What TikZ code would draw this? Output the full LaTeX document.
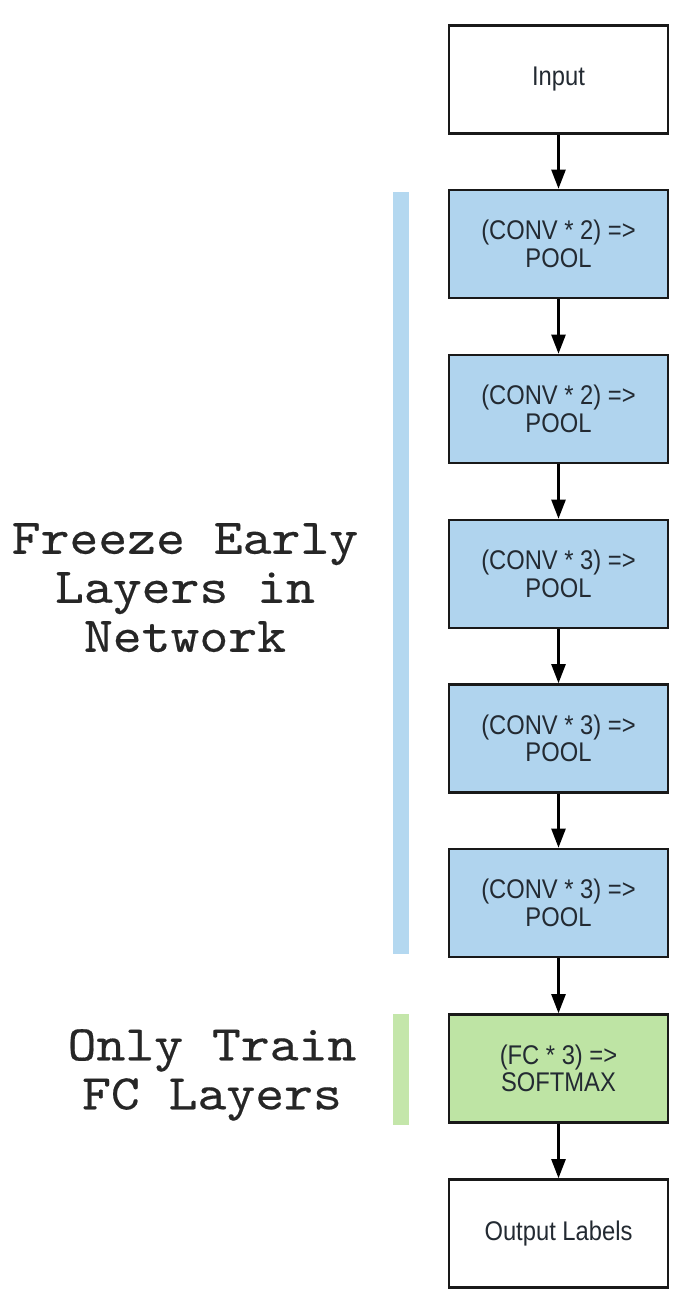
\documentclass[tikz,border=0pt]{standalone}
\usepackage{fontspec}
\setmainfont{Liberation Sans}
\newfontfamily\boxfont[FakeStretch=0.88]{Liberation Sans}
\newfontfamily\monof[FakeStretch=1.1,FakeBold=0.3]{lmmono10-regular.otf}
\usetikzlibrary{arrows.meta}
\definecolor{boxblue}{RGB}{176,212,238}
\definecolor{boxgreen}{RGB}{190,228,164}
\definecolor{barblue}{RGB}{180,216,240}
\definecolor{bargreen}{RGB}{196,230,170}
\definecolor{txtgray}{RGB}{35,42,50}
\tikzset{
  layer/.style={draw=black!90, line width=2.6pt, rectangle, minimum width=219pt, minimum height=108pt,
    align=center, text=txtgray, font=\boxfont\fontsize{27}{27.5}\selectfont, inner sep=0pt},
  bluelayer/.style={layer, fill=boxblue},
  greenlayer/.style={layer, fill=boxgreen},
  whitelayer/.style={layer, fill=white},
  flow/.style={line width=2.4pt, -{Triangle[length=19pt,width=14pt]}},
  sidetext/.style={font=\monof\fontsize{50}{49}\selectfont, align=center, text=black!85, inner sep=0pt, anchor=north},
}
\begin{document}
\begin{tikzpicture}[x=1pt,y=-1pt]
\useasboundingbox (0,0) rectangle (686,1303);
\fill[white] (0,0) rectangle (686,1303);
% bars
\fill[barblue] (393,192) rectangle (409,954);
\fill[bargreen] (393,1014) rectangle (409,1125);
% boxes
\node[whitelayer] (in) at (558.5,79.5) {Input};
\node[bluelayer] (c1) at (558.5,244) {(CONV * 2) =>\\POOL};
\node[bluelayer] (c2) at (558.5,409) {(CONV * 2) =>\\POOL};
\node[bluelayer] (c3) at (558.5,574) {(CONV * 3) =>\\POOL};
\node[bluelayer] (c4) at (558.5,738.5) {(CONV * 3) =>\\POOL};
\node[bluelayer] (c5) at (558.5,903) {(CONV * 3) =>\\POOL};
\node[greenlayer] (fc) at (558.5,1068.5) {(FC * 3) =>\\SOFTMAX};
\node[whitelayer] (out) at (558.5,1233.5) {Output Labels};
% arrows
\foreach \a/\b in {in/c1,c1/c2,c2/c3,c3/c4,c4/c5,c5/fc,fc/out}
  \draw[flow] (\a.south) -- (\b.north);
% side labels
\node[sidetext] (freeze) at (185,523) {Freeze Early\\Layers in\\Network};
\node[sidetext] (train) at (212,1029) {Only Train\\FC Layers};
\end{tikzpicture}
\end{document}
